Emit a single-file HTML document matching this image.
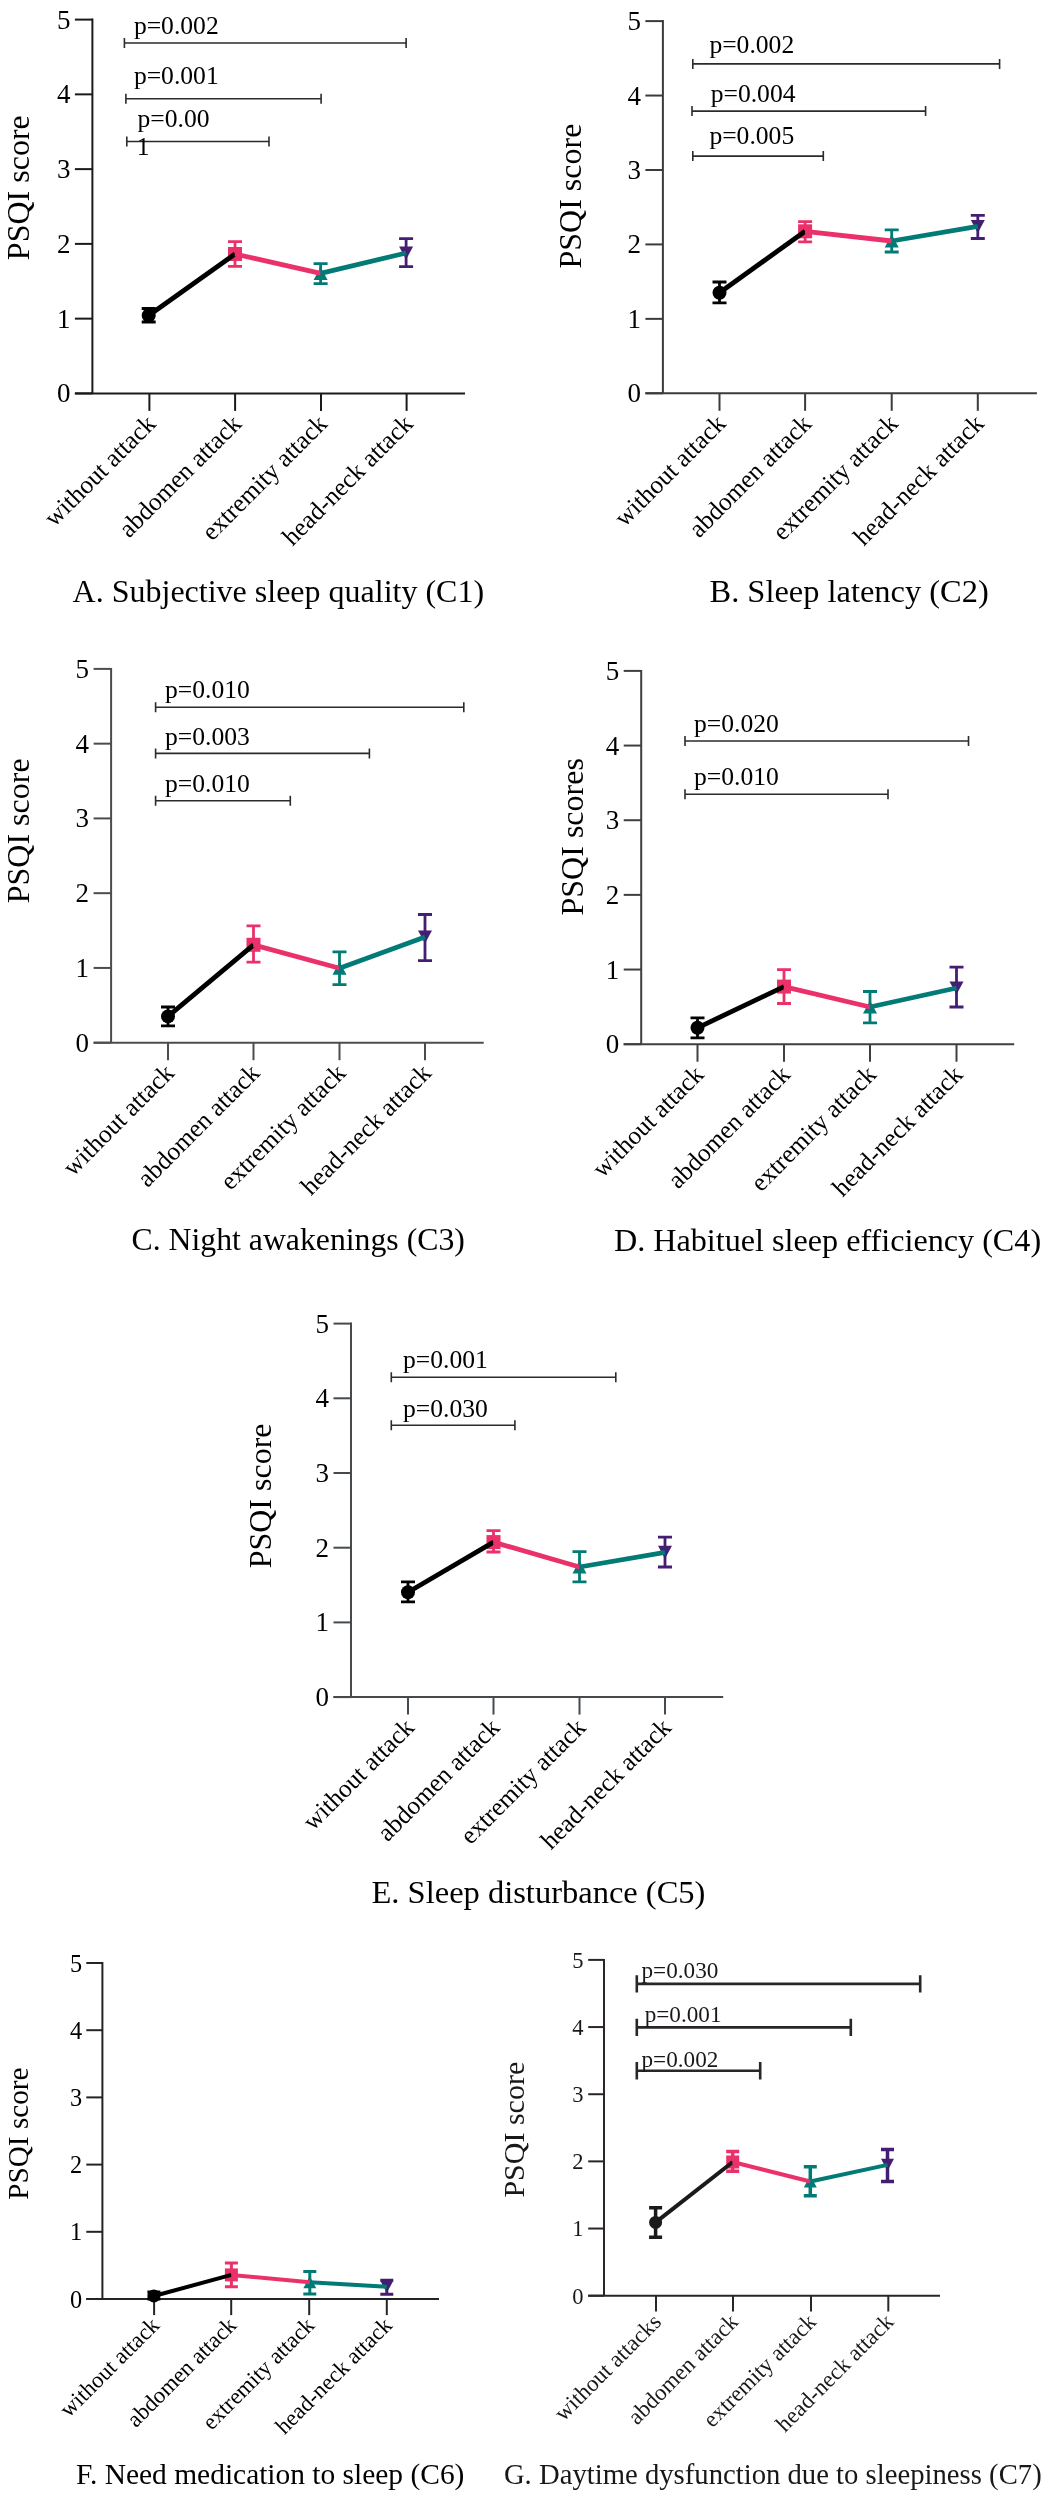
<!DOCTYPE html>
<html><head><meta charset="utf-8"><style>
html,body{margin:0;padding:0;background:#fff;}
svg{display:block;will-change:transform;}
text{font-family:"Liberation Serif",serif;}
</style></head><body>
<svg width="1046" height="2500" viewBox="0 0 1046 2500">
<rect width="1046" height="2500" fill="#fff"/>
<path d="M92.4 18.6V393.4" stroke="#1a1a1a" stroke-width="2" fill="none"/>
<path d="M74.9 393.4H465" stroke="#1a1a1a" stroke-width="2" fill="none"/>
<path d="M74.9 393.4H92.4" stroke="#1a1a1a" stroke-width="2"/>
<text x="70.4" y="402.4" text-anchor="end" font-size="27" fill="#000">0</text>
<path d="M74.9 318.64H92.4" stroke="#1a1a1a" stroke-width="2"/>
<text x="70.4" y="327.64" text-anchor="end" font-size="27" fill="#000">1</text>
<path d="M74.9 243.88H92.4" stroke="#1a1a1a" stroke-width="2"/>
<text x="70.4" y="252.88" text-anchor="end" font-size="27" fill="#000">2</text>
<path d="M74.9 169.12H92.4" stroke="#1a1a1a" stroke-width="2"/>
<text x="70.4" y="178.12" text-anchor="end" font-size="27" fill="#000">3</text>
<path d="M74.9 94.36H92.4" stroke="#1a1a1a" stroke-width="2"/>
<text x="70.4" y="103.36" text-anchor="end" font-size="27" fill="#000">4</text>
<path d="M74.9 19.6H92.4" stroke="#1a1a1a" stroke-width="2"/>
<text x="70.4" y="28.6" text-anchor="end" font-size="27" fill="#000">5</text>
<path d="M149.4 393.4V410.9" stroke="#1a1a1a" stroke-width="2"/>
<text x="157" y="425.2" text-anchor="end" font-size="25.5" fill="#000" transform="rotate(-45 157 425.2)">without attack</text>
<path d="M235.1 393.4V410.9" stroke="#1a1a1a" stroke-width="2"/>
<text x="242.7" y="425.2" text-anchor="end" font-size="25.5" fill="#000" transform="rotate(-45 242.7 425.2)">abdomen attack</text>
<path d="M321 393.4V410.9" stroke="#1a1a1a" stroke-width="2"/>
<text x="328.6" y="425.2" text-anchor="end" font-size="25.5" fill="#000" transform="rotate(-45 328.6 425.2)">extremity attack</text>
<path d="M406.6 393.4V410.9" stroke="#1a1a1a" stroke-width="2"/>
<text x="414.2" y="425.2" text-anchor="end" font-size="25.5" fill="#000" transform="rotate(-45 414.2 425.2)">head-neck attack</text>
<path d="M124.4 43H406.1 M124.4 38V48 M406.1 38V48" stroke="#2a2b2d" stroke-width="1.6" fill="none"/>
<text x="133.9" y="33.9" font-size="25.6" fill="#000">p=0.002</text>
<path d="M125.9 98.7H321.1 M125.9 93.7V103.7 M321.1 93.7V103.7" stroke="#2a2b2d" stroke-width="1.6" fill="none"/>
<text x="133.9" y="84.3" font-size="25.6" fill="#000">p=0.001</text>
<path d="M126.8 141.5H269 M126.8 136.5V146.5 M269 136.5V146.5" stroke="#2a2b2d" stroke-width="1.6" fill="none"/>
<text x="137.5" y="127.2" font-size="25.6" fill="#000">p=0.00</text>
<text x="136.8" y="154.8" font-size="25.6" fill="#000">1</text>
<path d="M148.7 308.5V322 M141.7 308.5H155.7 M141.7 322H155.7" stroke="#000" stroke-width="2.8" fill="none"/>
<circle cx="148.7" cy="315.5" r="7" fill="#000"/>
<path d="M235 241.6V266.3 M228 241.6H242 M228 266.3H242" stroke="#EB316A" stroke-width="2.8" fill="none"/>
<rect x="228" y="247" width="14" height="14" fill="#EB316A"/>
<path d="M320.6 263.6V283.7 M313.6 263.6H327.6 M313.6 283.7H327.6" stroke="#027A76" stroke-width="2.8" fill="none"/>
<path d="M320.6 266.89L327.6 279.91L313.6 279.91Z" fill="#027A76"/>
<path d="M406.1 238.6V266.7 M399.1 238.6H413.1 M399.1 266.7H413.1" stroke="#441E73" stroke-width="2.8" fill="none"/>
<path d="M399.1 246.49L413.1 246.49L406.1 259.51Z" fill="#441E73"/>
<path d="M148.7 315.5L235 254" stroke="#000" stroke-width="4.8" fill="none"/>
<path d="M235 254L320.6 273.4" stroke="#EB316A" stroke-width="4.8" fill="none"/>
<path d="M320.6 273.4L406.1 253" stroke="#027A76" stroke-width="4.8" fill="none"/>
<text x="29.2" y="187.7" text-anchor="middle" font-size="32" fill="#000" transform="rotate(-90 29.2 187.7)">PSQI score</text>
<text x="72.6" y="602" font-size="32" fill="#000">A. Subjective sleep quality (C1)</text>
<path d="M662.9 20.1V393.3" stroke="#3a3b3d" stroke-width="2" fill="none"/>
<path d="M645.4 393.3H1036.9" stroke="#3a3b3d" stroke-width="2" fill="none"/>
<path d="M645.4 393.3H662.9" stroke="#3a3b3d" stroke-width="2"/>
<text x="640.9" y="402.3" text-anchor="end" font-size="27" fill="#000">0</text>
<path d="M645.4 318.86H662.9" stroke="#3a3b3d" stroke-width="2"/>
<text x="640.9" y="327.86" text-anchor="end" font-size="27" fill="#000">1</text>
<path d="M645.4 244.42H662.9" stroke="#3a3b3d" stroke-width="2"/>
<text x="640.9" y="253.42" text-anchor="end" font-size="27" fill="#000">2</text>
<path d="M645.4 169.98H662.9" stroke="#3a3b3d" stroke-width="2"/>
<text x="640.9" y="178.98" text-anchor="end" font-size="27" fill="#000">3</text>
<path d="M645.4 95.54H662.9" stroke="#3a3b3d" stroke-width="2"/>
<text x="640.9" y="104.54" text-anchor="end" font-size="27" fill="#000">4</text>
<path d="M645.4 21.1H662.9" stroke="#3a3b3d" stroke-width="2"/>
<text x="640.9" y="30.1" text-anchor="end" font-size="27" fill="#000">5</text>
<path d="M719.5 393.3V410.8" stroke="#3a3b3d" stroke-width="2"/>
<text x="727.1" y="425.1" text-anchor="end" font-size="25.5" fill="#000" transform="rotate(-45 727.1 425.1)">without attack</text>
<path d="M805.1 393.3V410.8" stroke="#3a3b3d" stroke-width="2"/>
<text x="812.7" y="425.1" text-anchor="end" font-size="25.5" fill="#000" transform="rotate(-45 812.7 425.1)">abdomen attack</text>
<path d="M891.7 393.3V410.8" stroke="#3a3b3d" stroke-width="2"/>
<text x="899.3" y="425.1" text-anchor="end" font-size="25.5" fill="#000" transform="rotate(-45 899.3 425.1)">extremity attack</text>
<path d="M977.8 393.3V410.8" stroke="#3a3b3d" stroke-width="2"/>
<text x="985.4" y="425.1" text-anchor="end" font-size="25.5" fill="#000" transform="rotate(-45 985.4 425.1)">head-neck attack</text>
<path d="M692.8 63.9H999.6 M692.8 58.9V68.9 M999.6 58.9V68.9" stroke="#2a2b2d" stroke-width="1.6" fill="none"/>
<text x="709.4" y="52.7" font-size="25.6" fill="#000">p=0.002</text>
<path d="M692 111.1H925.6 M692 106.1V116.1 M925.6 106.1V116.1" stroke="#2a2b2d" stroke-width="1.6" fill="none"/>
<text x="710.7" y="102.4" font-size="25.6" fill="#000">p=0.004</text>
<path d="M692.8 156.1H823.3 M692.8 151.1V161.1 M823.3 151.1V161.1" stroke="#2a2b2d" stroke-width="1.6" fill="none"/>
<text x="709.4" y="144.2" font-size="25.6" fill="#000">p=0.005</text>
<path d="M719.5 282V302.9 M712.5 282H726.5 M712.5 302.9H726.5" stroke="#000" stroke-width="2.8" fill="none"/>
<circle cx="719.5" cy="292.7" r="7" fill="#000"/>
<path d="M805.1 221.6V241.9 M798.1 221.6H812.1 M798.1 241.9H812.1" stroke="#EB316A" stroke-width="2.8" fill="none"/>
<rect x="798.1" y="224.3" width="14" height="14" fill="#EB316A"/>
<path d="M891.7 229.8V252 M884.7 229.8H898.7 M884.7 252H898.7" stroke="#027A76" stroke-width="2.8" fill="none"/>
<path d="M891.7 234.49L898.7 247.51L884.7 247.51Z" fill="#027A76"/>
<path d="M977.8 215.3V238.5 M970.8 215.3H984.8 M970.8 238.5H984.8" stroke="#441E73" stroke-width="2.8" fill="none"/>
<path d="M970.8 219.89L984.8 219.89L977.8 232.91Z" fill="#441E73"/>
<path d="M719.5 292.7L805.1 231.3" stroke="#000" stroke-width="4.8" fill="none"/>
<path d="M805.1 231.3L891.7 241" stroke="#EB316A" stroke-width="4.8" fill="none"/>
<path d="M891.7 241L977.8 226.4" stroke="#027A76" stroke-width="4.8" fill="none"/>
<text x="581" y="196.1" text-anchor="middle" font-size="32" fill="#000" transform="rotate(-90 581 196.1)">PSQI score</text>
<text x="709.5" y="601.5" font-size="32.45" fill="#000">B. Sleep latency (C2)</text>
<path d="M111.1 667.9V1042.7" stroke="#4b4c4e" stroke-width="2" fill="none"/>
<path d="M93.6 1042.7H483.7" stroke="#4b4c4e" stroke-width="2" fill="none"/>
<path d="M93.6 1042.7H111.1" stroke="#4b4c4e" stroke-width="2"/>
<text x="89.1" y="1051.7" text-anchor="end" font-size="27" fill="#000">0</text>
<path d="M93.6 967.94H111.1" stroke="#4b4c4e" stroke-width="2"/>
<text x="89.1" y="976.94" text-anchor="end" font-size="27" fill="#000">1</text>
<path d="M93.6 893.18H111.1" stroke="#4b4c4e" stroke-width="2"/>
<text x="89.1" y="902.18" text-anchor="end" font-size="27" fill="#000">2</text>
<path d="M93.6 818.42H111.1" stroke="#4b4c4e" stroke-width="2"/>
<text x="89.1" y="827.42" text-anchor="end" font-size="27" fill="#000">3</text>
<path d="M93.6 743.66H111.1" stroke="#4b4c4e" stroke-width="2"/>
<text x="89.1" y="752.66" text-anchor="end" font-size="27" fill="#000">4</text>
<path d="M93.6 668.9H111.1" stroke="#4b4c4e" stroke-width="2"/>
<text x="89.1" y="677.9" text-anchor="end" font-size="27" fill="#000">5</text>
<path d="M168 1042.7V1060.2" stroke="#4b4c4e" stroke-width="2"/>
<text x="175.6" y="1074.5" text-anchor="end" font-size="25.5" fill="#000" transform="rotate(-45 175.6 1074.5)">without attack</text>
<path d="M253.5 1042.7V1060.2" stroke="#4b4c4e" stroke-width="2"/>
<text x="261.1" y="1074.5" text-anchor="end" font-size="25.5" fill="#000" transform="rotate(-45 261.1 1074.5)">abdomen attack</text>
<path d="M339.5 1042.7V1060.2" stroke="#4b4c4e" stroke-width="2"/>
<text x="347.1" y="1074.5" text-anchor="end" font-size="25.5" fill="#000" transform="rotate(-45 347.1 1074.5)">extremity attack</text>
<path d="M425 1042.7V1060.2" stroke="#4b4c4e" stroke-width="2"/>
<text x="432.6" y="1074.5" text-anchor="end" font-size="25.5" fill="#000" transform="rotate(-45 432.6 1074.5)">head-neck attack</text>
<path d="M155.6 707.2H463.8 M155.6 702.2V712.2 M463.8 702.2V712.2" stroke="#2a2b2d" stroke-width="1.6" fill="none"/>
<text x="165" y="698" font-size="25.6" fill="#000">p=0.010</text>
<path d="M155.6 753.4H369.4 M155.6 748.4V758.4 M369.4 748.4V758.4" stroke="#2a2b2d" stroke-width="1.6" fill="none"/>
<text x="165" y="745.2" font-size="25.6" fill="#000">p=0.003</text>
<path d="M155.6 800.8H290.3 M155.6 795.8V805.8 M290.3 795.8V805.8" stroke="#2a2b2d" stroke-width="1.6" fill="none"/>
<text x="165" y="791.5" font-size="25.6" fill="#000">p=0.010</text>
<path d="M168 1007V1025.8 M161 1007H175 M161 1025.8H175" stroke="#000" stroke-width="2.8" fill="none"/>
<circle cx="168" cy="1016.4" r="7" fill="#000"/>
<path d="M253.5 925.9V962.2 M246.5 925.9H260.5 M246.5 962.2H260.5" stroke="#EB316A" stroke-width="2.8" fill="none"/>
<rect x="246.5" y="937.8" width="14" height="14" fill="#EB316A"/>
<path d="M339.5 951.8V984.6 M332.5 951.8H346.5 M332.5 984.6H346.5" stroke="#027A76" stroke-width="2.8" fill="none"/>
<path d="M339.5 961.69L346.5 974.71L332.5 974.71Z" fill="#027A76"/>
<path d="M425 914.5V960.7 M418 914.5H432 M418 960.7H432" stroke="#441E73" stroke-width="2.8" fill="none"/>
<path d="M418 930.49L432 930.49L425 943.51Z" fill="#441E73"/>
<path d="M168 1016.4L253.5 944.8" stroke="#000" stroke-width="4.8" fill="none"/>
<path d="M253.5 944.8L339.5 968.2" stroke="#EB316A" stroke-width="4.8" fill="none"/>
<path d="M339.5 968.2L425 937" stroke="#027A76" stroke-width="4.8" fill="none"/>
<text x="29.2" y="830.8" text-anchor="middle" font-size="32" fill="#000" transform="rotate(-90 29.2 830.8)">PSQI score</text>
<text x="131.5" y="1250" font-size="31.75" fill="#000">C. Night awakenings (C3)</text>
<path d="M641.2 669.9V1044.2" stroke="#3e4040" stroke-width="2" fill="none"/>
<path d="M623.7 1044.2H1014.2" stroke="#3e4040" stroke-width="2" fill="none"/>
<path d="M623.7 1044.2H641.2" stroke="#3e4040" stroke-width="2"/>
<text x="619.2" y="1053.2" text-anchor="end" font-size="27" fill="#000">0</text>
<path d="M623.7 969.54H641.2" stroke="#3e4040" stroke-width="2"/>
<text x="619.2" y="978.54" text-anchor="end" font-size="27" fill="#000">1</text>
<path d="M623.7 894.88H641.2" stroke="#3e4040" stroke-width="2"/>
<text x="619.2" y="903.88" text-anchor="end" font-size="27" fill="#000">2</text>
<path d="M623.7 820.22H641.2" stroke="#3e4040" stroke-width="2"/>
<text x="619.2" y="829.22" text-anchor="end" font-size="27" fill="#000">3</text>
<path d="M623.7 745.56H641.2" stroke="#3e4040" stroke-width="2"/>
<text x="619.2" y="754.56" text-anchor="end" font-size="27" fill="#000">4</text>
<path d="M623.7 670.9H641.2" stroke="#3e4040" stroke-width="2"/>
<text x="619.2" y="679.9" text-anchor="end" font-size="27" fill="#000">5</text>
<path d="M697.5 1044.2V1061.7" stroke="#3e4040" stroke-width="2"/>
<text x="705.1" y="1076" text-anchor="end" font-size="25.5" fill="#000" transform="rotate(-45 705.1 1076)">without attack</text>
<path d="M784 1044.2V1061.7" stroke="#3e4040" stroke-width="2"/>
<text x="791.6" y="1076" text-anchor="end" font-size="25.5" fill="#000" transform="rotate(-45 791.6 1076)">abdomen attack</text>
<path d="M870 1044.2V1061.7" stroke="#3e4040" stroke-width="2"/>
<text x="877.6" y="1076" text-anchor="end" font-size="25.5" fill="#000" transform="rotate(-45 877.6 1076)">extremity attack</text>
<path d="M956.5 1044.2V1061.7" stroke="#3e4040" stroke-width="2"/>
<text x="964.1" y="1076" text-anchor="end" font-size="25.5" fill="#000" transform="rotate(-45 964.1 1076)">head-neck attack</text>
<path d="M685 741H968.5 M685 736V746 M968.5 736V746" stroke="#2a2b2d" stroke-width="1.6" fill="none"/>
<text x="694" y="732" font-size="25.6" fill="#000">p=0.020</text>
<path d="M685 794.2H888 M685 789.2V799.2 M888 789.2V799.2" stroke="#2a2b2d" stroke-width="1.6" fill="none"/>
<text x="694" y="785.2" font-size="25.6" fill="#000">p=0.010</text>
<path d="M697.5 1017.9V1037.8 M690.5 1017.9H704.5 M690.5 1037.8H704.5" stroke="#000" stroke-width="2.8" fill="none"/>
<circle cx="697.5" cy="1027.8" r="7" fill="#000"/>
<path d="M784 969.7V1003.5 M777 969.7H791 M777 1003.5H791" stroke="#EB316A" stroke-width="2.8" fill="none"/>
<rect x="777" y="979.6" width="14" height="14" fill="#EB316A"/>
<path d="M870 991.5V1022.9 M863 991.5H877 M863 1022.9H877" stroke="#027A76" stroke-width="2.8" fill="none"/>
<path d="M870 1000.49L877 1013.51L863 1013.51Z" fill="#027A76"/>
<path d="M956.5 967.2V1007 M949.5 967.2H963.5 M949.5 1007H963.5" stroke="#441E73" stroke-width="2.8" fill="none"/>
<path d="M949.5 981.49L963.5 981.49L956.5 994.51Z" fill="#441E73"/>
<path d="M697.5 1027.8L784 986.6" stroke="#000" stroke-width="4.8" fill="none"/>
<path d="M784 986.6L870 1007" stroke="#EB316A" stroke-width="4.8" fill="none"/>
<path d="M870 1007L956.5 988" stroke="#027A76" stroke-width="4.8" fill="none"/>
<text x="582.8" y="836.8" text-anchor="middle" font-size="32" fill="#000" transform="rotate(-90 582.8 836.8)">PSQI scores</text>
<text x="614" y="1250.5" font-size="32.17" fill="#000">D. Habituel sleep efficiency (C4)</text>
<path d="M351 1322.6V1697.1" stroke="#474a4c" stroke-width="2" fill="none"/>
<path d="M333.5 1697.1H723.2" stroke="#474a4c" stroke-width="2" fill="none"/>
<path d="M333.5 1697.1H351" stroke="#474a4c" stroke-width="2"/>
<text x="329" y="1706.1" text-anchor="end" font-size="27" fill="#000">0</text>
<path d="M333.5 1622.4H351" stroke="#474a4c" stroke-width="2"/>
<text x="329" y="1631.4" text-anchor="end" font-size="27" fill="#000">1</text>
<path d="M333.5 1547.7H351" stroke="#474a4c" stroke-width="2"/>
<text x="329" y="1556.7" text-anchor="end" font-size="27" fill="#000">2</text>
<path d="M333.5 1473H351" stroke="#474a4c" stroke-width="2"/>
<text x="329" y="1482" text-anchor="end" font-size="27" fill="#000">3</text>
<path d="M333.5 1398.3H351" stroke="#474a4c" stroke-width="2"/>
<text x="329" y="1407.3" text-anchor="end" font-size="27" fill="#000">4</text>
<path d="M333.5 1323.6H351" stroke="#474a4c" stroke-width="2"/>
<text x="329" y="1332.6" text-anchor="end" font-size="27" fill="#000">5</text>
<path d="M408 1697.1V1714.6" stroke="#474a4c" stroke-width="2"/>
<text x="415.6" y="1728.9" text-anchor="end" font-size="25.5" fill="#000" transform="rotate(-45 415.6 1728.9)">without attack</text>
<path d="M493.5 1697.1V1714.6" stroke="#474a4c" stroke-width="2"/>
<text x="501.1" y="1728.9" text-anchor="end" font-size="25.5" fill="#000" transform="rotate(-45 501.1 1728.9)">abdomen attack</text>
<path d="M579.5 1697.1V1714.6" stroke="#474a4c" stroke-width="2"/>
<text x="587.1" y="1728.9" text-anchor="end" font-size="25.5" fill="#000" transform="rotate(-45 587.1 1728.9)">extremity attack</text>
<path d="M665 1697.1V1714.6" stroke="#474a4c" stroke-width="2"/>
<text x="672.6" y="1728.9" text-anchor="end" font-size="25.5" fill="#000" transform="rotate(-45 672.6 1728.9)">head-neck attack</text>
<path d="M391.3 1377.3H615.8 M391.3 1372.3V1382.3 M615.8 1372.3V1382.3" stroke="#2a2b2d" stroke-width="1.6" fill="none"/>
<text x="403" y="1368.1" font-size="25.6" fill="#000">p=0.001</text>
<path d="M391.3 1425.3H514.9 M391.3 1420.3V1430.3 M514.9 1420.3V1430.3" stroke="#2a2b2d" stroke-width="1.6" fill="none"/>
<text x="403" y="1417" font-size="25.6" fill="#000">p=0.030</text>
<path d="M408 1581.9V1601.8 M401 1581.9H415 M401 1601.8H415" stroke="#000" stroke-width="2.8" fill="none"/>
<circle cx="408" cy="1592.3" r="7" fill="#000"/>
<path d="M493.5 1530.7V1552 M486.5 1530.7H500.5 M486.5 1552H500.5" stroke="#EB316A" stroke-width="2.8" fill="none"/>
<rect x="486.5" y="1535.1" width="14" height="14" fill="#EB316A"/>
<path d="M579.5 1551.6V1581.9 M572.5 1551.6H586.5 M572.5 1581.9H586.5" stroke="#027A76" stroke-width="2.8" fill="none"/>
<path d="M579.5 1560.49L586.5 1573.51L572.5 1573.51Z" fill="#027A76"/>
<path d="M665 1537.1V1567 M658 1537.1H672 M658 1567H672" stroke="#441E73" stroke-width="2.8" fill="none"/>
<path d="M658 1545.79L672 1545.79L665 1558.81Z" fill="#441E73"/>
<path d="M408 1592.3L493.5 1542.1" stroke="#000" stroke-width="4.8" fill="none"/>
<path d="M493.5 1542.1L579.5 1567" stroke="#EB316A" stroke-width="4.8" fill="none"/>
<path d="M579.5 1567L665 1552.3" stroke="#027A76" stroke-width="4.8" fill="none"/>
<text x="270.6" y="1495.9" text-anchor="middle" font-size="32" fill="#000" transform="rotate(-90 270.6 1495.9)">PSQI score</text>
<text x="371.5" y="1903" font-size="32.5" fill="#000">E. Sleep disturbance (C5)</text>
<path d="M102.4 1962V2299" stroke="#232427" stroke-width="2" fill="none"/>
<path d="M86.3 2299H439" stroke="#232427" stroke-width="2" fill="none"/>
<path d="M86.3 2299H102.4" stroke="#232427" stroke-width="2"/>
<text x="82.1" y="2307.6" text-anchor="end" font-size="24.3" fill="#000">0</text>
<path d="M86.3 2231.8H102.4" stroke="#232427" stroke-width="2"/>
<text x="82.1" y="2240.4" text-anchor="end" font-size="24.3" fill="#000">1</text>
<path d="M86.3 2164.6H102.4" stroke="#232427" stroke-width="2"/>
<text x="82.1" y="2173.2" text-anchor="end" font-size="24.3" fill="#000">2</text>
<path d="M86.3 2097.4H102.4" stroke="#232427" stroke-width="2"/>
<text x="82.1" y="2106" text-anchor="end" font-size="24.3" fill="#000">3</text>
<path d="M86.3 2030.2H102.4" stroke="#232427" stroke-width="2"/>
<text x="82.1" y="2038.8" text-anchor="end" font-size="24.3" fill="#000">4</text>
<path d="M86.3 1963H102.4" stroke="#232427" stroke-width="2"/>
<text x="82.1" y="1971.6" text-anchor="end" font-size="24.3" fill="#000">5</text>
<path d="M154.1 2299V2315.1" stroke="#232427" stroke-width="2"/>
<text x="160.6" y="2326.6" text-anchor="end" font-size="22.8" fill="#000" transform="rotate(-45 160.6 2326.6)">without attack</text>
<path d="M231.2 2299V2315.1" stroke="#232427" stroke-width="2"/>
<text x="237.7" y="2326.6" text-anchor="end" font-size="22.8" fill="#000" transform="rotate(-45 237.7 2326.6)">abdomen attack</text>
<path d="M309.2 2299V2315.1" stroke="#232427" stroke-width="2"/>
<text x="315.7" y="2326.6" text-anchor="end" font-size="22.8" fill="#000" transform="rotate(-45 315.7 2326.6)">extremity attack</text>
<path d="M386.8 2299V2315.1" stroke="#232427" stroke-width="2"/>
<text x="393.3" y="2326.6" text-anchor="end" font-size="22.8" fill="#000" transform="rotate(-45 393.3 2326.6)">head-neck attack</text>
<path d="M153.9 2292V2299 M147.4 2292H160.4 M147.4 2299H160.4" stroke="#000" stroke-width="3" fill="none"/>
<circle cx="153.9" cy="2296" r="6.5" fill="#000"/>
<path d="M231.4 2262.9V2286.8 M224.9 2262.9H237.9 M224.9 2286.8H237.9" stroke="#EB316A" stroke-width="3" fill="none"/>
<rect x="224.9" y="2268.4" width="13" height="13" fill="#EB316A"/>
<path d="M309.8 2271.6V2294 M303.3 2271.6H316.3 M303.3 2294H316.3" stroke="#027A76" stroke-width="3" fill="none"/>
<path d="M309.8 2276.26L316.3 2288.35L303.3 2288.35Z" fill="#027A76"/>
<path d="M386.8 2280.3V2294.2 M380.3 2280.3H393.3 M380.3 2294.2H393.3" stroke="#441E73" stroke-width="3" fill="none"/>
<path d="M380.3 2280.76L393.3 2280.76L386.8 2292.85Z" fill="#441E73"/>
<path d="M153.9 2296L231.4 2274.9" stroke="#000" stroke-width="4" fill="none"/>
<path d="M231.4 2274.9L309.8 2282.3" stroke="#EB316A" stroke-width="4" fill="none"/>
<path d="M309.8 2282.3L386.8 2286.8" stroke="#027A76" stroke-width="4" fill="none"/>
<text x="28.1" y="2133.6" text-anchor="middle" font-size="29.2" fill="#000" transform="rotate(-90 28.1 2133.6)">PSQI score</text>
<text x="76" y="2484" font-size="29.45" fill="#000">F. Need medication to sleep (C6)</text>
<path d="M604 1958.9V2295.7" stroke="#2a2627" stroke-width="2" fill="none"/>
<path d="M588.2 2295.7H940" stroke="#2a2627" stroke-width="2" fill="none"/>
<path d="M588.2 2295.7H604" stroke="#2a2627" stroke-width="2"/>
<text x="583.4" y="2303.5" text-anchor="end" font-size="22.5" fill="#1a1718">0</text>
<path d="M588.2 2228.54H604" stroke="#2a2627" stroke-width="2"/>
<text x="583.4" y="2236.34" text-anchor="end" font-size="22.5" fill="#1a1718">1</text>
<path d="M588.2 2161.38H604" stroke="#2a2627" stroke-width="2"/>
<text x="583.4" y="2169.18" text-anchor="end" font-size="22.5" fill="#1a1718">2</text>
<path d="M588.2 2094.22H604" stroke="#2a2627" stroke-width="2"/>
<text x="583.4" y="2102.02" text-anchor="end" font-size="22.5" fill="#1a1718">3</text>
<path d="M588.2 2027.06H604" stroke="#2a2627" stroke-width="2"/>
<text x="583.4" y="2034.86" text-anchor="end" font-size="22.5" fill="#1a1718">4</text>
<path d="M588.2 1959.9H604" stroke="#2a2627" stroke-width="2"/>
<text x="583.4" y="1967.7" text-anchor="end" font-size="22.5" fill="#1a1718">5</text>
<path d="M656 2295.7V2311.5" stroke="#2a2627" stroke-width="2"/>
<text x="662.5" y="2323.2" text-anchor="end" font-size="23" fill="#1a1718" transform="rotate(-45 662.5 2323.2)">without attacks</text>
<path d="M733 2295.7V2311.5" stroke="#2a2627" stroke-width="2"/>
<text x="739.5" y="2323.2" text-anchor="end" font-size="23" fill="#1a1718" transform="rotate(-45 739.5 2323.2)">abdomen attack</text>
<path d="M811 2295.7V2311.5" stroke="#2a2627" stroke-width="2"/>
<text x="817.5" y="2323.2" text-anchor="end" font-size="23" fill="#1a1718" transform="rotate(-45 817.5 2323.2)">extremity attack</text>
<path d="M888.3 2295.7V2311.5" stroke="#2a2627" stroke-width="2"/>
<text x="894.8" y="2323.2" text-anchor="end" font-size="23" fill="#1a1718" transform="rotate(-45 894.8 2323.2)">head-neck attack</text>
<path d="M636.8 1983.9H920.2 M636.8 1975.2V1992.6 M920.2 1975.2V1992.6" stroke="#2a2627" stroke-width="2.6" fill="none"/>
<text x="641.5" y="1977.8" font-size="23.2" fill="#1a1718">p=0.030</text>
<path d="M636.8 2027.4H850.8 M636.8 2018.7V2036.1 M850.8 2018.7V2036.1" stroke="#2a2627" stroke-width="2.6" fill="none"/>
<text x="644.7" y="2022" font-size="23.2" fill="#1a1718">p=0.001</text>
<path d="M636.8 2070.8H760.2 M636.8 2062.1V2079.5 M760.2 2062.1V2079.5" stroke="#2a2627" stroke-width="2.6" fill="none"/>
<text x="641.5" y="2067.2" font-size="23.2" fill="#1a1718">p=0.002</text>
<path d="M655.6 2207.7V2237.2 M649.1 2207.7H662.1 M649.1 2237.2H662.1" stroke="#1a1a1a" stroke-width="3.5" fill="none"/>
<circle cx="655.6" cy="2222.4" r="6.5" fill="#1a1a1a"/>
<path d="M732.7 2151.5V2171.3 M726.2 2151.5H739.2 M726.2 2171.3H739.2" stroke="#EB316A" stroke-width="3.5" fill="none"/>
<rect x="726.2" y="2155.5" width="13" height="13" fill="#EB316A"/>
<path d="M810.3 2166.8V2195.7 M803.8 2166.8H816.8 M803.8 2195.7H816.8" stroke="#027A76" stroke-width="3.5" fill="none"/>
<path d="M810.3 2175.45L816.8 2187.55L803.8 2187.55Z" fill="#027A76"/>
<path d="M887.5 2149.4V2181.5 M881 2149.4H894 M881 2181.5H894" stroke="#441E73" stroke-width="3.5" fill="none"/>
<path d="M881 2158.86L894 2158.86L887.5 2170.95Z" fill="#441E73"/>
<path d="M655.6 2222.4L732.7 2162" stroke="#1a1a1a" stroke-width="4" fill="none"/>
<path d="M732.7 2162L810.3 2181.5" stroke="#EB316A" stroke-width="4" fill="none"/>
<path d="M810.3 2181.5L887.5 2164.9" stroke="#027A76" stroke-width="4" fill="none"/>
<text x="524.5" y="2129.7" text-anchor="middle" font-size="30" fill="#1a1718" transform="rotate(-90 524.5 2129.7)">PSQI score</text>
<text x="503.9" y="2483.8" font-size="28.7" fill="#1a1718">G. Daytime dysfunction due to sleepiness (C7)</text>
</svg>
</body></html>
